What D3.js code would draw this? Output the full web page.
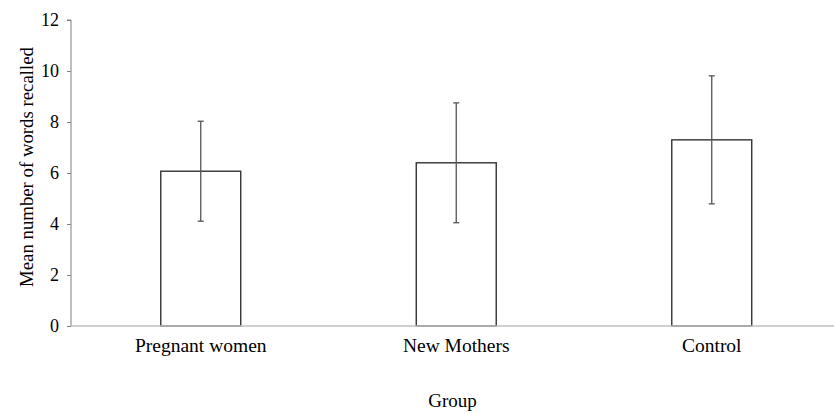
<!DOCTYPE html>
<html><head><meta charset="utf-8">
<script src="https://cdn.jsdelivr.net/npm/d3@7"></script>
<style>
#chart, #chart text { font-family: "Liberation Serif", "Times New Roman", Tinos, FreeSerif, serif !important; }
</style>
</head><body style="margin:0;background:#fff">
<svg id="chart" width="834" height="414" style='font-family: "Liberation Serif", "Times New Roman", Tinos, serif'></svg>
<script>
const categories = ["Pregnant women", "New Mothers", "Control"];
const means = [6.07, 6.40, 7.30];
const sds = [1.96, 2.35, 2.51];
const yTicks = [0, 2, 4, 6, 8, 10, 12];
const yTitle = "Mean number of words recalled";
const xTitle = "Group";

const FONT = '"Liberation Serif", "Times New Roman", Tinos, serif';
const svg = d3.select("#chart");
const x0 = 71, x1 = 834, yBottom = 326, yTop = 20;

const x = d3.scaleBand().domain(categories).range([73, 839.5])
  .paddingInner(0.687).paddingOuter(0.3435);
const y = d3.scaleLinear().domain([0, 12]).range([yBottom, yTop]);

// y axis
const yAxis = svg.append("g").attr("transform", `translate(${x0},0)`)
  .call(d3.axisLeft(y).tickValues(yTicks).tickSize(4).tickPadding(8).tickFormat(d3.format("d")));
yAxis.attr("font-family", FONT).style("font-family", FONT).attr("font-size", null);
yAxis.select(".domain").attr("stroke", "#7f7f7f").attr("d", `M-4,${yTop}H0V${yBottom}`);
yAxis.selectAll(".tick line").attr("stroke", "#7f7f7f");
yAxis.selectAll(".tick text").style("font-family", FONT).style("font-size", "18px").attr("fill", "#000");

// bars
const data = categories.map((c, i) => ({c, m: means[i], s: sds[i]}));
svg.append("g").selectAll("rect").data(data).join("rect")
  .attr("x", d => x(d.c)).attr("width", x.bandwidth())
  .attr("y", d => y(d.m)).attr("height", d => y(0) - y(d.m))
  .attr("fill", "#fff").attr("stroke", "#333").attr("stroke-width", 1.4);

// x axis line
svg.append("line").attr("x1", x0).attr("x2", x1).attr("y1", yBottom).attr("y2", yBottom)
  .attr("stroke", "#bfbfbf").attr("stroke-width", 1.5);

// error bars
const eb = svg.append("g").attr("stroke", "#555").attr("stroke-width", 1.3);
data.forEach(d => {
  const cx = x(d.c) + x.bandwidth() / 2;
  eb.append("line").attr("x1", cx).attr("x2", cx).attr("y1", y(d.m + d.s)).attr("y2", y(d.m - d.s));
  eb.append("line").attr("x1", cx - 3).attr("x2", cx + 3).attr("y1", y(d.m + d.s)).attr("y2", y(d.m + d.s));
  eb.append("line").attr("x1", cx - 3).attr("x2", cx + 3).attr("y1", y(d.m - d.s)).attr("y2", y(d.m - d.s));
});

// category labels
svg.append("g").selectAll("text").data(categories).join("text")
  .attr("x", d => x(d) + x.bandwidth() / 2).attr("y", 351.5)
  .attr("text-anchor", "middle").style("font-family", FONT).style("font-size", "19.5px").text(d => d);

// axis titles
svg.append("text").attr("x", (x0 + x1) / 2).attr("y", 407)
  .attr("text-anchor", "middle").style("font-family", FONT).style("font-size", "19px").text(xTitle);
svg.append("text").attr("transform", `translate(33,${(yTop + yBottom) / 2 - 6}) rotate(-90)`)
  .attr("text-anchor", "middle").style("font-family", FONT).style("font-size", "18.8px").text(yTitle);
</script>
</body></html>
